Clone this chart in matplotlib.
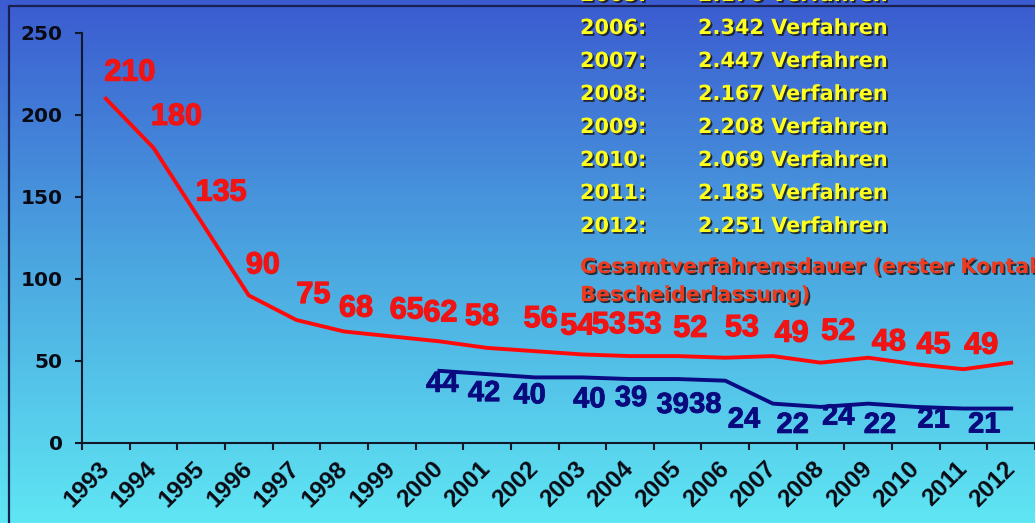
import numpy as np
import matplotlib
matplotlib.use("Agg")
import matplotlib.pyplot as plt
import matplotlib.patheffects as pe
from matplotlib.colors import LinearSegmentedColormap
from matplotlib.lines import Line2D

# ---------------- data ----------------
years = ['1993', '1994', '1995', '1996', '1997', '1998', '1999', '2000', '2001', '2002',
         '2003', '2004', '2005', '2006', '2007', '2008', '2009', '2010', '2011', '2012']
total_duration = [210, 180, 135, 90, 75, 68, 65, 62, 58, 56, 54, 53, 53, 52, 53, 49, 52, 48, 45, 49]
second_years = ['2000', '2001', '2002', '2003', '2004', '2005', '2006', '2007', '2008', '2009',
                '2010', '2011', '2012']
second_duration = [44, 42, 40, 40, 39, 39, 38, 24, 22, 24, 22, 21, 21]
case_years = ['2005:', '2006:', '2007:', '2008:', '2009:', '2010:', '2011:', '2012:']
case_counts = ['2.176 Verfahren', '2.342 Verfahren', '2.447 Verfahren', '2.167 Verfahren',
               '2.208 Verfahren', '2.069 Verfahren', '2.185 Verfahren', '2.251 Verfahren']
subtitle = ['Gesamtverfahrensdauer (erster Kontakt', 'Bescheiderlassung)']

# label placement offsets (pixels: dx right, dy down)
red_dx = [24, 23, 20, 14, 17, 12, 15, 1, -5, 6, -5, -21, -33, -35, -31, -29, -30, -27, -30, -30]
red_dy = [-26, -31, -29, -30, -25, -23, -26, -28, -31, -32, -28, -31, -31, -29, -28, -29, -26, -22, -24, -17]
blue_dx = [3, -3, -5, 7, 1, -5, -20, -29, -28, -30, -36, -30, -27]
blue_dy = [13, 19, 18, 22, 19, 26, 24, 16, 18, 13, 18, 11, 16]

W, H = 1035, 523
fig = plt.figure(figsize=(W / 100, H / 100), dpi=100)


def fx(px):
    return px / W


def fy(py):
    return 1 - py / H


# background gradient
bg = fig.add_axes([0, 0, 1, 1], zorder=0)
bg.set_xlim(0, 1)
bg.set_ylim(0, 1)
bg.axis('off')
cmap = LinearSegmentedColormap.from_list('bgg', ['#5FE6F3', '#4BA6E0', '#3B5BD0'])
grad = np.linspace(0, 1, 256).reshape(-1, 1)
bg.imshow(grad, cmap=cmap, aspect='auto', extent=[0, 1, 0, 1], origin='lower')
# outer frame
bg.add_line(Line2D([fx(9), fx(9), 1.01], [-0.01, fy(6), fy(6)], color='#1a2150', lw=1.6))

# main axes
ax = fig.add_axes([fx(82), fy(443), 1 - fx(82), fy(33) - fy(443)], zorder=2)
ax.patch.set_alpha(0)
ax.set_xlim(-0.5, 19.19)
ax.set_ylim(0, 250)
for s in ['top', 'right']:
    ax.spines[s].set_visible(False)
for s in ['left', 'bottom']:
    ax.spines[s].set_color('#10182a')
    ax.spines[s].set_linewidth(1.5)

ax.set_yticks([0, 50, 100, 150, 200, 250])
ax.set_yticklabels(['0', '50', '100', '150', '200', '250'])
ax.tick_params(axis='y', length=5, width=1.5, color='#10182a', pad=9)
for t in ax.get_yticklabels():
    t.set_fontfamily('DejaVu Sans')
    t.set_fontweight('bold')
    t.set_fontsize(14.5)
    t.set_color('#0a0a14')

xpos = np.arange(len(years))
ax.set_xticks(np.arange(-0.5, len(years), 1.0))
ax.set_xticklabels([])
ax.tick_params(axis='x', which='major', length=5, width=1.5, color='#10182a', direction='out')
ax.set_xticks(xpos, minor=True)
ax.set_xticklabels(years, minor=True)
ax.tick_params(axis='x', which='minor', length=0, pad=16)
for t in ax.get_xticklabels(minor=True):
    t.set_rotation(45)
    t.set_ha('right')
    t.set_va('center')
    t.set_rotation_mode('anchor')
    t.set_fontfamily('Liberation Sans')
    t.set_fontweight('bold')
    t.set_fontsize(17.5)
    t.set_color('#0a0a14')

# lines
ax.plot(xpos, total_duration, color='#FF0A0A', lw=2.8, solid_joinstyle='round', zorder=3)
bx = np.array([years.index(y) for y in second_years])
ax.plot(bx, second_duration, color='#0A0A82', lw=2.8, solid_joinstyle='round', zorder=3)

red_fx = [pe.withStroke(linewidth=0.9, foreground='#F01414')]
blue_fx = [pe.withStroke(linewidth=0.6, foreground='#0A0A7F')]
for i, v in enumerate(total_duration):
    ax.annotate(str(v), (xpos[i], v), xytext=(red_dx[i], -red_dy[i]), textcoords='offset pixels',
                ha='center', va='center', color='#F01414', fontsize=22, fontweight='bold',
                fontfamily='Liberation Sans', zorder=4, annotation_clip=False, path_effects=red_fx)
for i, v in enumerate(second_duration):
    ax.annotate(str(v), (bx[i], v), xytext=(blue_dx[i], -blue_dy[i]), textcoords='offset pixels',
                ha='center', va='center', color='#0A0A7F', fontsize=21, fontweight='bold',
                fontfamily='Liberation Sans', zorder=4, annotation_clip=False, path_effects=blue_fx)

# case count text block
shadow = [pe.SimplePatchShadow(offset=(1.3, -1.3), shadow_rgbFace='#1a1a1a', alpha=0.85), pe.Normal()]
row0 = -5
for k, (yl, cnt) in enumerate(zip(case_years, case_counts)):
    yy = row0 + 33 * k
    fig.text(fx(580), fy(yy), yl, ha='left', va='center', color='#FFFF1E', fontsize=15,
             fontweight='bold', fontfamily='DejaVu Sans', path_effects=shadow, zorder=5)
    fig.text(fx(698), fy(yy), cnt, ha='left', va='center', color='#FFFF1E', fontsize=15,
             fontweight='bold', fontfamily='DejaVu Sans', path_effects=shadow, zorder=5)

for k, line in enumerate(subtitle):
    fig.text(fx(580), fy(267 + 28 * k), line, ha='left', va='center', color='#EE3A1E',
             fontsize=15, fontweight='bold', fontfamily='DejaVu Sans', path_effects=shadow, zorder=5)

fig.savefig('out.png', dpi=100)
